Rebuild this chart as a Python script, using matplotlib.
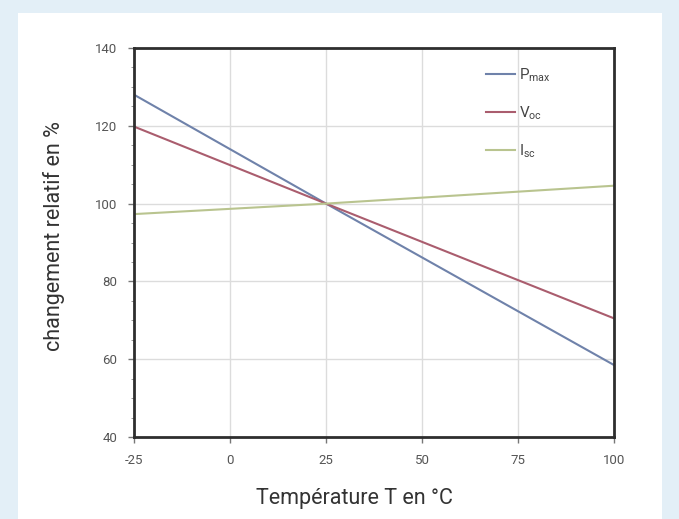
import matplotlib.pyplot as plt
from matplotlib.patches import Rectangle
from matplotlib.ticker import MultipleLocator

# Temperaturpunkte und relative Änderung (%)
temp = [-25, 25, 100]
p_max = [128, 100, 58.5]
v_oc = [119.8, 100, 70.5]
i_sc = [97.3, 100, 104.6]

labels = [r'$P_{max}$', r'$V_{oc}$', r'$I_{sc}$']
colors = ['#6f82aa', '#aa5d6e', '#b9c48f']

plt.rcParams['font.family'] = ['Roboto', 'DejaVu Sans']
plt.rcParams['axes.unicode_minus'] = False
plt.rcParams['mathtext.fontset'] = 'custom'
plt.rcParams['mathtext.rm'] = 'Roboto'
plt.rcParams['mathtext.it'] = 'Roboto'

fig = plt.figure(figsize=(6.79, 5.19), dpi=100)
fig.patch.set_facecolor('#e3eff7')
# weisses Feld hinter dem Diagramm
fig.patches.append(Rectangle((18 / 679, 0), 644 / 679, 1 - 13 / 519,
                             transform=fig.transFigure, facecolor='white',
                             edgecolor='none', zorder=-5))

ax = fig.add_axes([134 / 679, 1 - 437 / 519, 480 / 679, 389 / 519])
ax.set_facecolor('white')

for y, lab, c in zip([p_max, v_oc, i_sc], labels, colors):
    ax.plot(temp, y, color=c, lw=1.5, label=lab)

ax.set_xlim(-25, 100)
ax.set_ylim(40, 140)
ax.set_xticks([-25, 0, 25, 50, 75, 100])
ax.set_yticks([40, 60, 80, 100, 120, 140])
ax.yaxis.set_minor_locator(MultipleLocator(5))
ax.grid(True, color='#dcdcdc', lw=1)
ax.set_axisbelow(True)

for s in ax.spines.values():
    s.set_color('#2e2e2e')
    s.set_linewidth(2)

ax.tick_params(axis='both', which='major', labelsize=9.5, labelcolor='#555555',
               color='#777777', length=4, width=1, pad=8)
ax.tick_params(axis='y', which='minor', length=2, color='#888888')

ax.set_xlabel('Température T en °C', fontsize=15.5, color='#333333')
ax.set_ylabel('changement relatif en %', fontsize=15.5, color='#333333')
ax.xaxis.set_label_coords(0.46, -0.13)
ax.yaxis.set_label_coords(-0.144, 0.517)

leg = ax.legend(loc='upper left', frameon=False, fontsize=11, handlelength=1.9,
                labelspacing=1.35, handletextpad=0.3, borderpad=0,
                borderaxespad=0, bbox_to_anchor=(0.733, 0.952))
for t in leg.get_texts():
    t.set_color('#444444')

fig.savefig('out.png', dpi=100, facecolor=fig.get_facecolor())
